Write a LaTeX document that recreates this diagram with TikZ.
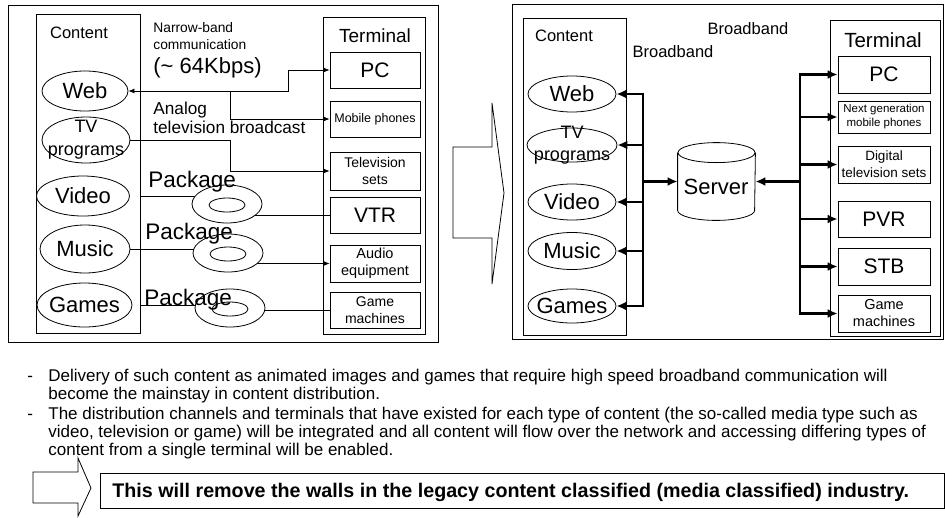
\documentclass[tikz,border=0pt]{standalone}
\usepackage{fontspec}
\setmainfont{Liberation Sans}
\usetikzlibrary{shapes.geometric,arrows.meta,calc}
\newcommand\fsz[2]{\fontsize{#1}{#2}\selectfont}
\begin{document}
\begin{tikzpicture}[x=1pt,y=-1pt,line width=0.8pt,
  ell/.style={ellipse,draw,inner sep=0pt,fill=white},
  etext/.style={inner sep=0pt,align=center,font=\fsz{22}{22}},
  tbox/.style={draw,rectangle,inner sep=0pt,align=center},
  lbox/.style={tbox,minimum width=90pt},
  rbox/.style={tbox,minimum width=92pt},
  disc/.style={ellipse,draw,fill=white,inner sep=0pt,minimum width=70pt,minimum height=38pt},
  hole/.style={ellipse,draw,fill=white,inner sep=0pt,minimum width=36pt,minimum height=14pt},
  tip/.style={-{Latex[length=6pt,width=5pt]}},
  bus/.style={line width=2.8pt},
  bustip/.style={bus,-{Latex[length=10pt,width=9pt]}},
  lbl/.style={inner sep=0pt,align=left,anchor=west},
  body/.style={inner sep=0pt,anchor=base west,font=\fsz{17}{19}},
]
\useasboundingbox (0,0) rectangle (945,517);

% ---------- legacy distribution ----------
\draw (8,5) rectangle (438,342);
\draw (36,14) rectangle (140,333);
\draw (323,17) rectangle (425,334);
\coordinate (cboxE) at (140,0);

\node[inner sep=0pt,font=\fsz{16.5}{18}] (cont1) at (79,33) {Content};
\node[inner sep=0pt,font=\fsz{19}{20}] (term1) at (375,36) {Terminal};

\node[lbl,font=\fsz{13.8}{17}] (narrow) at (153,36.5) {Narrow-band\\communication};
\node[lbl,font=\fsz{22}{22}] (kbps) at (153,68) {(\textasciitilde\ 64Kbps)};
\node[lbl,font=\fsz{17.2}{19}] (analog) at (153,117.5) {Analog\\television broadcast};

\node[ell,minimum width=86pt,minimum height=40pt,label={[etext]center:Web}] (web) at (85,91) {};
\node[ell,minimum width=88pt,minimum height=46pt,label={[etext,font=\fsz{18}{23}]center:TV\\programs}] (tv) at (86,140) {};
\node[ell,minimum width=93pt,minimum height=40pt,label={[etext]center:Video}] (video) at (83,196) {};
\node[ell,minimum width=90pt,minimum height=48pt,label={[etext]center:Music}] (music) at (85,249) {};
\node[ell,minimum width=95pt,minimum height=44pt,label={[etext]center:Games}] (games) at (84.5,305) {};

\node[lbox,minimum height=36pt,font=\fsz{21}{22}] (pc) at (375,70) {PC};
\node[lbox,minimum height=36pt,font=\fsz{12.5}{14}] (mob) at (375,119) {Mobile phones};
\node[lbox,minimum height=38pt,font=\fsz{14}{17}] (tvs) at (375,171) {Television\\sets};
\node[lbox,minimum height=36pt,font=\fsz{21}{22}] (vtr) at (375,215) {VTR};
\node[lbox,minimum height=37pt,font=\fsz{14.5}{17}] (audio) at (375,263.5) {Audio\\equipment};
\node[lbox,minimum height=36pt,font=\fsz{14}{17}] (gm) at (375,310) {Game\\machines};

% narrow-band and broadcast routes
\coordinate (wj) at (288,0);
\coordinate (mj) at (230,0);
\draw[{Latex[length=6pt,width=5pt]}-{Latex[length=6pt,width=5pt]}] (web.east) -- (web.east -| wj) |- (pc.west);
\draw[tip] (web.east -| mj) |- (mob.west);
\draw[tip] (tv.east) -- (tv.east -| mj) |- (tvs.west);

% package media: feed lines first, then the discs on top
\coordinate (d1c) at (227,204);
\coordinate (d2c) at (228,253);
\coordinate (d3c) at (230,308);
\draw (video -| cboxE) -- (video -| d1c);
\draw (d1c |- vtr) -- (vtr.west);
\draw (music.east) -- (music.east -| d2c);
\draw[tip] (d2c |- audio) -- (audio.west);
\draw (games -| cboxE) -- (games -| d3c);
\draw (d3c |- gm) -- (gm.west);
\node[disc] (d1) at (d1c) {};
\node[hole] (h1) at (227,205) {};
\node[disc] (d2) at (d2c) {};
\node[hole] (h2) at (228,254) {};
\node[disc] (d3) at (d3c) {};
\node[hole] (h3) at (230,309) {};
\node[lbl,font=\fsz{22.5}{23}] (pk1) at (148,182) {Package};
\node[lbl,font=\fsz{22.5}{23}] (pk2) at (145,234) {Package};
\node[lbl,font=\fsz{22.5}{23}] (pk3) at (144,300) {Package};

% ---------- transition arrow ----------
\draw (453,147) -- (492,147) -- (492,103) -- (504,193) -- (492,284) -- (492,238) -- (453,238) -- cycle;

% ---------- broadband distribution ----------
\draw (512,4) rectangle (943,339);
\draw (523,18) rectangle (626,335);
\draw (830,20) rectangle (940,336);

\node[inner sep=0pt,font=\fsz{16.5}{18}] (cont2) at (564,36) {Content};
\node[inner sep=0pt,font=\fsz{20.5}{22}] (term2) at (883,40) {Terminal};
\node[inner sep=0pt,font=\fsz{16.5}{18}] (bb1) at (748,29) {Broadband};
\node[inner sep=0pt,font=\fsz{16.5}{18}] (bb2) at (673,52) {Broadband};

\node[ell,minimum width=88pt,minimum height=36pt,label={[etext]center:Web}] (web2) at (572,94) {};
\node[ell,minimum width=90pt,minimum height=34pt,label={[etext,font=\fsz{18}{22}]center:TV\\programs}] (tv2) at (572,145) {};
\node[ell,minimum width=88pt,minimum height=36pt,label={[etext]center:Video}] (video2) at (572,202) {};
\node[ell,minimum width=88pt,minimum height=37pt,label={[etext]center:Music}] (music2) at (572,251) {};
\node[ell,minimum width=88pt,minimum height=34pt,label={[etext]center:Games}] (games2) at (572,306) {};

\node[rbox,minimum height=37pt,font=\fsz{21}{22}] (pc2) at (884,74.5) {PC};
\node[rbox,minimum height=32pt,font=\fsz{11.5}{14}] (ng2) at (884,117) {Next generation\\mobile phones};
\node[rbox,minimum height=37pt,font=\fsz{13.5}{17}] (dtv2) at (884,164.5) {Digital\\television sets};
\node[rbox,minimum height=36pt,font=\fsz{21}{22}] (pvr2) at (884,219) {PVR};
\node[rbox,minimum height=37pt,font=\fsz{21}{22}] (stb2) at (884,266.5) {STB};
\node[rbox,minimum height=37pt,font=\fsz{14.5}{17}] (gm2) at (884,313.5) {Game\\machines};

% server cylinder
\node[minimum width=77pt,minimum height=77pt,inner sep=0pt] (server) at (716.5,181.5) {};
\draw[fill=white] ($(server.north west)+(0,10)$) -- ($(server.south west)+(0,-10)$)
  arc[start angle=180,end angle=360,x radius=38.5pt,y radius=10pt] -- ($(server.north east)+(0,10)$);
\draw ($(server.north)+(0,10)$) ellipse [x radius=38.5pt,y radius=10pt];
\node[inner sep=0pt,font=\fsz{22}{22}] (srvtext) at (716,187) {Server};

% broadband buses
\coordinate (rb) at (643,0);
\coordinate (tb) at (800,0);
\draw[bus,line cap=rect] (web2.east -| rb) -- (games2.east -| rb);
\foreach \e in {web2,tv2,video2,music2,games2}
  \draw[bustip] (\e.east -| rb) -- (\e.east);
\draw[bustip] (server.west -| rb) -- (server.west);
\draw[bus,line cap=rect] (pc2.west -| tb) -- (gm2.west -| tb);
\draw[bustip] (server.east -| tb) -- (server.east);
\foreach \t in {pc2,ng2,dtv2,pvr2,stb2,gm2}
  \draw[bustip] (\t.west -| tb) -- (\t.west);

% ---------- notes ----------
\node[body] (dash1) at (27,381) {-};
\node[body] (l1) at (48,381) {Delivery of such content as animated images and games that require high speed broadband communication will};
\node[body] (l2) at (48,399) {become the mainstay in content distribution.};
\node[body] (dash2) at (27,419) {-};
\node[body] (l3) at (48,419) {The distribution channels and terminals that have existed for each type of content (the so-called media type such as};
\node[body] (l4) at (48,437) {video, television or game) will be integrated and all content will flow over the network and accessing differing types of};
\node[body] (l5) at (48,455) {content from a single terminal will be enabled.};

\draw (33,472) -- (78,472) -- (78,458) -- (91,488) -- (78,516) -- (78,503) -- (33,503) -- cycle;
\draw (100,473) rectangle (944,508);
\node[inner sep=0pt,anchor=base west,font=\fsz{19.7}{22}\bfseries] (concl) at (112,497)
  {This will remove the walls in the legacy content classified (media classified) industry.};
\end{tikzpicture}
\end{document}
